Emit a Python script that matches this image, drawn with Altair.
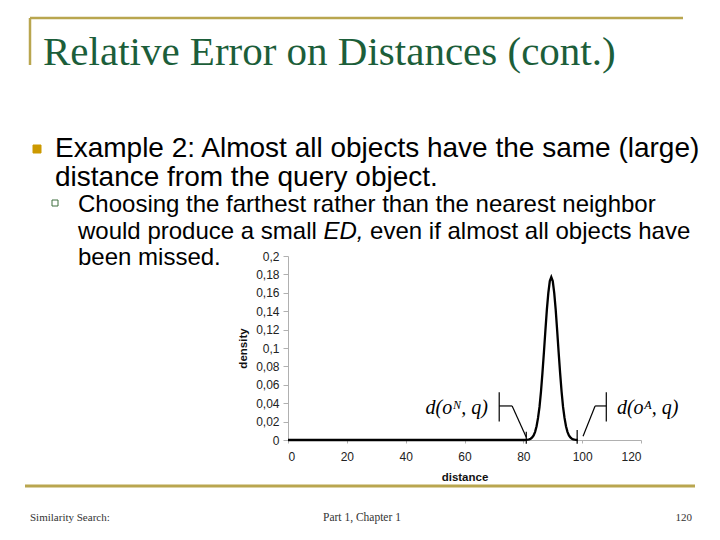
import altair as alt
import pandas as pd

# ---------------- data ----------------
DIST = [0, 80.5, 81.5, 82, 82.5, 83, 83.5, 84, 84.5, 85, 85.5, 86, 86.5, 87, 87.5,
        88, 88.5, 89, 89.5, 90, 90.5, 91, 91.5, 92, 92.5, 93, 93.5, 94, 94.5,
        95, 95.5, 96, 96.5, 97, 97.5, 98.5]
DENS = [0, 0, 0.0003, 0.0007, 0.0014, 0.0027, 0.005, 0.0089, 0.015, 0.024, 0.036,
        0.0527, 0.073, 0.0954, 0.119, 0.1417, 0.160, 0.1727, 0.177, 0.1727, 0.160,
        0.1417, 0.119, 0.0954, 0.073, 0.0527, 0.036, 0.024, 0.015, 0.0089, 0.005,
        0.0027, 0.0014, 0.0007, 0.0003, 0]

X_TICKS = [0, 20, 40, 60, 80, 100, 120]
Y_TICKS = [0, 0.02, 0.04, 0.06, 0.08, 0.1, 0.12, 0.14, 0.16, 0.18, 0.2]

# annotation brackets (data units): x, y, x2, y2
SEG_X = [71.8, 71.8, 76.2, 81.0, 98.3, 100.3, 104.4, 108.2]
SEG_Y = [0.020, 0.037, 0.037, -0.004, -0.004, 0.004, 0.037, 0.020]
SEG_X2 = [71.8, 76.2, 81.0, 81.0, 98.3, 104.4, 108.2, 108.2]
SEG_Y2 = [0.052, 0.037, 0.003, 0.009, 0.011, 0.037, 0.037, 0.052]

LABEL_N = "d(o\u1d3a, q)"
LABEL_A = "d(o\u1d2c, q)"
LABEL_N_X, LABEL_A_X = 68.0, 111.8
LABEL_Y = 0.035

TITLE = "Relative Error on Distances (cont.)"
BULLET1 = ["Example 2: Almost all objects have the same (large)",
           "distance from the query object."]
SUB1 = "Choosing the farthest rather than the nearest neighbor"
SUB2A = "would produce a small"
SUB2B = "ED,"
SUB2C = "even if almost all objects have"
SUB3 = "been missed."
FOOT_L = "Similarity Search:"
FOOT_C = "Part 1, Chapter 1"
FOOT_R = "120"

GOLD = "#b9a64f"
GREEN = "#1c5e3a"

# plot origin in page pixels: (288, 256); values below are relative to it
OX, OY = 288, 256
F1, F2 = 28, 24          # body font sizes
SX = 78                  # sub-bullet text left

curve = pd.DataFrame({"distance": DIST, "density": DENS})
segs = pd.DataFrame({"x": SEG_X, "y": SEG_Y, "x2": SEG_X2, "y2": SEG_Y2})

xscale = alt.Scale(domain=[0, 120], nice=False)
yscale = alt.Scale(domain=[0, 0.2], nice=False)

XAX = alt.Axis(values=X_TICKS, title="distance", grid=False, labelOverlap=False,
               domainColor="#b0b0b0", tickColor="#b0b0b0", tickSize=3,
               labelFont="Liberation Sans", labelFontSize=12,
               labelColor="#222222", labelPadding=8,
               titleFont="Liberation Sans", titleFontSize=11.5,
               titleFontWeight="bold", titleColor="#111111", titlePadding=9)
YAX = alt.Axis(values=Y_TICKS, title="density", grid=False, labelOverlap=False,
               labelExpr="replace(format(datum.value, '.2~f'), '.', ',')",
               domainColor="#b0b0b0", tickColor="#b0b0b0", tickSize=5,
               labelFont="Liberation Sans", labelFontSize=12,
               labelColor="#222222", labelPadding=4,
               titleFont="Liberation Sans", titleFontSize=11.5,
               titleFontWeight="bold", titleColor="#111111", titlePadding=7)

line = alt.Chart(curve).mark_line(color="black", strokeWidth=2.3).encode(
    x=alt.X("distance:Q", scale=xscale, axis=XAX, title="distance"),
    y=alt.Y("density:Q", scale=yscale, axis=YAX, title="density"),
    order="distance:Q",
)

brackets = alt.Chart(segs).mark_rule(color="black", strokeWidth=1.2).encode(
    x=alt.X("x:Q", scale=xscale, axis=XAX, title="distance"),
    y=alt.Y("y:Q", scale=yscale, axis=YAX, title="density"),
    x2="x2:Q", y2="y2:Q",
)


def ann(s, xv, align):
    return alt.Chart(pd.DataFrame({"x": [xv], "y": [LABEL_Y], "t": [s]})).mark_text(
        font="Liberation Serif", fontStyle="italic", fontSize=20,
        baseline="middle", align=align, color="black").encode(
        x=alt.X("x:Q", scale=xscale, axis=XAX, title="distance"),
        y=alt.Y("y:Q", scale=yscale, axis=YAX, title="density"),
        text="t:N")


def txt(s, X, Y, size, font="Liberation Sans", color="black", style="normal",
        align="left"):
    return alt.Chart(pd.DataFrame({"t": [s]})).mark_text(
        font=font, fontSize=size, color=color, fontStyle=style, align=align,
        baseline="alphabetic").encode(
        text="t:N", x=alt.value(X - OX), y=alt.value(Y - OY))


def rule(X1, Y1, X2, Y2, color, w):
    return alt.Chart(pd.DataFrame({"t": [0]})).mark_rule(
        color=color, strokeWidth=w).encode(
        x=alt.value(X1 - OX), x2=alt.value(X2 - OX),
        y=alt.value(Y1 - OY), y2=alt.value(Y2 - OY))


def box(X1, Y1, X2, Y2, fill, stroke):
    return alt.Chart(pd.DataFrame({"t": [0]})).mark_rect(
        fill=fill, stroke=stroke, strokeWidth=1).encode(
        x=alt.value(X1 - OX), x2=alt.value(X2 - OX),
        y=alt.value(Y1 - OY), y2=alt.value(Y2 - OY))


slide = [
    rule(30, 18, 683, 18, GOLD, 2.5),
    rule(30, 18, 30, 65, GOLD, 2.5),
    rule(25, 486, 695, 486, GOLD, 3),
    txt(TITLE, 43, 65, 41, font="Liberation Serif", color=GREEN),
    box(33, 145, 41, 153, "#cc9900", "#cc9900"),
    txt(BULLET1[0], 55, 157, F1),
    txt(BULLET1[1], 55, 186, F1),
    box(52, 200, 58, 206, "white", "#3f6f3f"),
    txt(SUB1, SX, 212, F2),
    txt(SUB2A, SX, 239, F2),
    txt(SUB2B, SX + 10.226 * F2, 239, F2, style="italic"),
    txt(SUB2C, SX + 12.171 * F2, 239, F2),
    txt(SUB3, SX, 265, F2),
    txt(FOOT_L, 30, 521, 11, font="Liberation Serif", color="#333333"),
    txt(FOOT_C, 323, 521, 11.5, font="Liberation Serif", color="#333333"),
    txt(FOOT_R, 692, 521, 11, font="Liberation Serif", color="#333333", align="right"),
]

chart = alt.layer(line, brackets, ann(LABEL_N, LABEL_N_X, "right"),
                  ann(LABEL_A, LABEL_A_X, "left"), *slide).properties(
    width=353, height=184,
    autosize=alt.AutoSizeParams(type="none"),
    padding={"left": 280, "top": 248, "right": 71, "bottom": 92},
    background="white",
).configure_view(stroke=None).configure_axis(labelOverlap=False)

chart.save("out.html", embed_options={"renderer": "svg", "actions": False})
